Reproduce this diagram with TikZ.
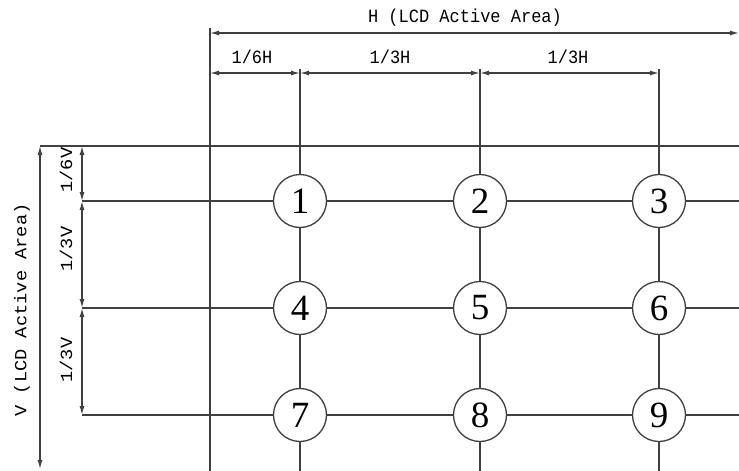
\documentclass[tikz,border=0pt]{standalone}
\usepackage{fontspec}
\setmonofont{Liberation Mono}
\newfontfamily\digitfont{Liberation Serif}
\usetikzlibrary{arrows.meta}

\tikzset{
  gridline/.style = {line width = 1.3pt, draw = black!75},
  dimline/.style = {line width = 1.3pt, draw = black!75, {Latex[length = 9pt, width = 5pt]}-{Latex[length = 9pt, width = 5pt]}},
  dimtext/.style = {font = \ttfamily\fontsize{17}{17}\selectfont, inner sep = 0pt, yscale = 1.1},
  point/.style = {circle, draw = black!75, line width = 1.3pt, fill = white, minimum size = 53pt, inner sep = 0pt, font = \digitfont\fontsize{37}{37}\selectfont}
}

\begin{document}
\begin{tikzpicture}[x = 1pt, y = -1pt]

\useasboundingbox (0, 0) rectangle (739, 471);

% measuring points
\node[point] (p1) at (300, 201) {1};
\node[point] (p2) at (480, 201) {2};
\node[point] (p3) at (659, 201) {3};
\node[point] (p4) at (300, 308) {4};
\node[point] (p5) at (480, 308) {5};
\node[point] (p6) at (659, 308) {6};
\node[point] (p7) at (300, 415) {7};
\node[point] (p8) at (480, 415) {8};
\node[point] (p9) at (659, 415) {9};

% line ends
\coordinate (left top) at (210, 28);
\coordinate (left bot) at (210, 471);
\coordinate (col1 top) at (300, 69);
\coordinate (col1 bot) at (300, 471);
\coordinate (col2 top) at (480, 69);
\coordinate (col2 bot) at (480, 471);
\coordinate (col3 top) at (659, 69);
\coordinate (col3 bot) at (659, 471);
\coordinate (top west) at (40, 146);
\coordinate (top east) at (739, 146);
\coordinate (row1 west) at (82, 201);
\coordinate (row1 east) at (739, 201);
\coordinate (row2 west) at (82, 308);
\coordinate (row2 east) at (739, 308);
\coordinate (row3 west) at (82, 415);
\coordinate (row3 east) at (739, 415);

% grid
\draw[gridline] (left top) to (left bot);
\draw[gridline] (top west) to (top east);
\draw[gridline] (col1 top) to (p1) to (p4) to (p7) to (col1 bot);
\draw[gridline] (col2 top) to (p2) to (p5) to (p8) to (col2 bot);
\draw[gridline] (col3 top) to (p3) to (p6) to (p9) to (col3 bot);
\draw[gridline] (row1 west) to (p1) to (p2) to (p3) to (row1 east);
\draw[gridline] (row2 west) to (p4) to (p5) to (p6) to (row2 east);
\draw[gridline] (row3 west) to (p7) to (p8) to (p9) to (row3 east);

% horizontal dimensions
\coordinate (h west) at (210, 33);
\coordinate (h east) at (739, 33);
\coordinate (h0) at (210, 73);
\coordinate (h1) at (300, 73);
\coordinate (h2) at (480, 73);
\coordinate (h3) at (659, 73);

\draw[dimline] (h west) to (h east);
\draw[dimline] (h0) to (h1);
\draw[dimline] (h1) to (h2);
\draw[dimline] (h2) to (h3);

\node[dimtext] (h label) at (465, 18) {H (LCD Active Area)};
\node[dimtext] (h6 label) at (252, 57) {1/6H};
\node[dimtext] (h3a label) at (390, 57) {1/3H};
\node[dimtext] (h3b label) at (568, 57) {1/3H};

% vertical dimensions
\coordinate (v top) at (40, 146);
\coordinate (v bot) at (40, 469);
\coordinate (v0) at (82, 146);
\coordinate (v1) at (82, 201);
\coordinate (v2) at (82, 308);
\coordinate (v3) at (82, 415);

\draw[dimline] (v top) to (v bot);
\draw[dimline] (v0) to (v1);
\draw[dimline] (v1) to (v2);
\draw[dimline] (v2) to (v3);

\node[dimtext, rotate = 90] (v label) at (22, 310) {V (LCD Active Area)};
\node[dimtext, rotate = 90] (v6 label) at (66, 170) {1/6V};
\node[dimtext, rotate = 90] (v3a label) at (66, 249) {1/3V};
\node[dimtext, rotate = 90] (v3b label) at (66, 360) {1/3V};

\end{tikzpicture}
\end{document}
